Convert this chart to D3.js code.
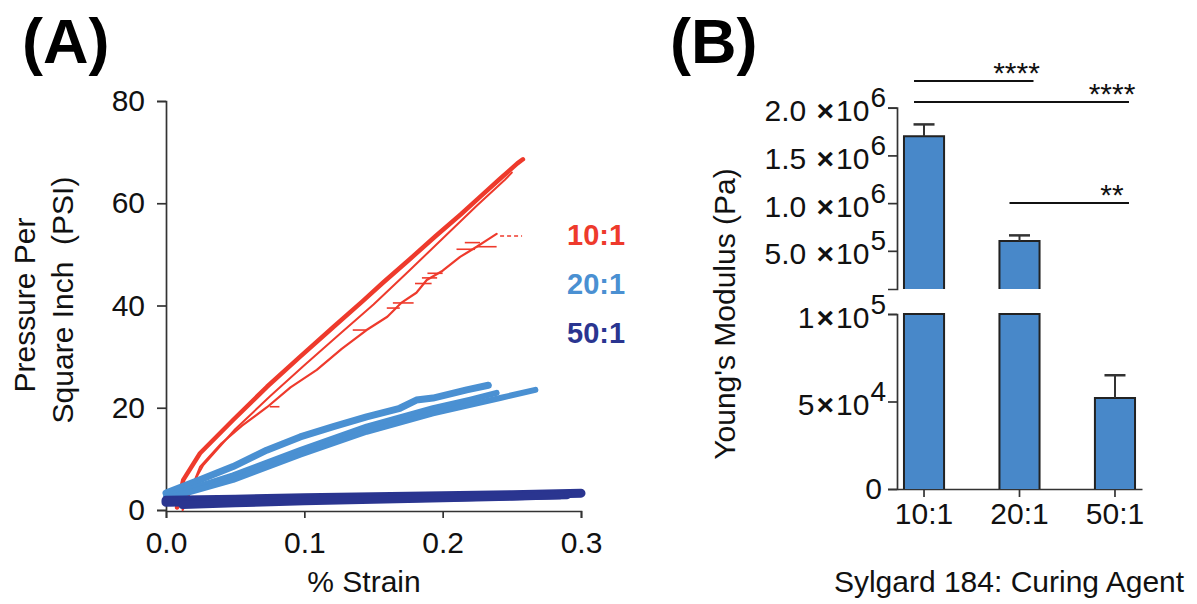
<!DOCTYPE html>
<html>
<head>
<meta charset="UTF-8">
<title>Sylgard 184 - stress/strain and Young's modulus</title>
<script src="https://cdn.jsdelivr.net/npm/d3@7"></script>
<style>
body{margin:0;background:#fff;}
svg{display:block;font-family:"Liberation Sans",Arial,sans-serif;}
.axis path,.axis line{stroke:#333;stroke-width:1.7px;}
.axis text{font-family:"Liberation Sans",Arial,sans-serif;font-size:30px;fill:#111;}
.lbl{font-size:30px;fill:#111;}
</style>
</head>
<body>
<script>
// ---------- panel A : pressure vs strain traces, [strain, psi] ----------
var red1 = [[0.008,0.5],[0.0125,5.9],[0.0246,11.1],[0.0485,17.6],[0.073,24.1],[0.097,30],[0.121,35.8],[0.142,40.8],[0.157,44.5],[0.176,49],[0.195,53.6],[0.213,57.8],[0.228,61.5],[0.2415,64.8],[0.254,67.8],[0.258,68.6]];
var red2 = [[0.012,0.3],[0.016,3.5],[0.027,8.8],[0.05,15.8],[0.075,22.2],[0.1,28.3],[0.125,34.3],[0.15,40.2],[0.175,46.6],[0.2,53.1],[0.225,59.6],[0.245,64.6],[0.25,66]];
var red3 = [[0.012,0],[0.016,2.5],[0.0246,8.4],[0.04,13],[0.055,16.5],[0.073,20.1],[0.09,24],[0.109,27.4],[0.127,31.5],[0.145,35.2],[0.16,37.8],[0.17,40.5],[0.181,42.5],[0.1885,45],[0.2,46.8],[0.2126,49.5],[0.2246,51.5],[0.232,52.8],[0.239,54]];
var red3Tail = [[0.2415,53.6],[0.2574,53.6]];
// horizontal scatter marks on the third 10:1 trace, [from, to, psi]
var redMarks = [[0.075,0.082,20.2],[0.135,0.145,35.2],[0.1596,0.169,39.5],[0.164,0.179,40.5],[0.18,0.192,44.3],[0.185,0.196,45.4],[0.189,0.2,46.3],[0.21,0.2234,51.0],[0.216,0.227,52.3],[0.2246,0.239,51.5]];

var blue1 = [[0,3.3],[0.0246,5.9],[0.0485,8.5],[0.0728,11.7],[0.097,14.3],[0.121,16.3],[0.145,18.2],[0.169,19.9],[0.181,21.5],[0.193,21.9],[0.2174,23.5],[0.233,24.4]];
var blue2 = [[0,2.6],[0.0485,6.8],[0.097,11.7],[0.145,16.3],[0.193,19.9],[0.22,21.6],[0.239,22.9]];
var blue3 = [[0,2.2],[0.0485,5.9],[0.097,10.8],[0.145,15.3],[0.193,18.9],[0.2415,21.9],[0.267,23.5]];

var navy1 = [[0,1.9],[0.05,2.1],[0.1,2.4],[0.15,2.6],[0.2,2.8],[0.25,3.0],[0.3,3.3]];
var navy2 = [[0,1.5],[0.05,1.7],[0.1,2.0],[0.15,2.3],[0.2,2.5],[0.25,2.8],[0.29,3.0]];
var navy3 = [[0.012,1.0],[0.05,1.3],[0.1,1.7],[0.15,2.0],[0.2,2.3],[0.25,2.6],[0.285,2.9]];

var legendLabels = ["10:1", "20:1", "50:1"];
var strainTicks = [0, 0.1, 0.2, 0.3];
var psiTicks = [0, 20, 40, 60, 80];

// ---------- panel B : Young's modulus per curing ratio ----------
var ratios = ["10:1", "20:1", "50:1"];
var modulus = [1.70e6, 6.02e5, 5.2e4];
var modulusErr = [1.25e5, 6.0e4, 1.3e4];
var upperTicks = [5e5, 1e6, 1.5e6, 2e6];
var lowerTicks = [0, 5e4, 1e5];
var sigPairs = [["10:1","20:1","****",2.28e6],["10:1","50:1","****",2.06e6],["20:1","50:1","**",1.0e6]];

var red = "#ee3a2c", lightBlue = "#4a90d2", navy = "#2a3590", barFill = "#4888c9";

var svg = d3.select("body").append("svg")
  .attr("width", 1197).attr("height", 604);

// panel letters
svg.append("text").attr("x", 22).attr("y", 63)
  .style("font-size", "63px").style("font-weight", "bold").text("(A)");
svg.append("text").attr("x", 670).attr("y", 63)
  .style("font-size", "63px").style("font-weight", "bold").text("(B)");

// ---- A ----
var xA = d3.scaleLinear().domain([0, 0.3]).range([166, 581]);
var yA = d3.scaleLinear().domain([0, 80]).range([510, 101]);

svg.append("g").attr("class", "axis")
  .attr("transform", "translate(0,511)")
  .call(d3.axisBottom(xA).tickValues(strainTicks).tickFormat(d3.format(".1f"))
    .tickSize(7).tickSizeOuter(7).tickPadding(14));

svg.append("g").attr("class", "axis")
  .attr("transform", "translate(166,0)")
  .call(d3.axisLeft(yA).tickValues(psiTicks).tickFormat(d3.format("d"))
    .tickSize(9).tickSizeOuter(9).tickPadding(12));

var line = d3.line().x(function(d){ return xA(d[0]); }).y(function(d){ return yA(d[1]); });

var traces = [
  {d: red1, c: red, w: 4.5},
  {d: red2, c: red, w: 2},
  {d: red3, c: red, w: 2.2},
  {d: blue1, c: lightBlue, w: 7},
  {d: blue2, c: lightBlue, w: 6},
  {d: blue3, c: lightBlue, w: 6},
  {d: navy1, c: navy, w: 9},
  {d: navy2, c: navy, w: 9},
  {d: navy3, c: navy, w: 8}
];

var gT = svg.append("g");
gT.selectAll("path.trace").data(traces).enter().append("path")
  .attr("class", "trace")
  .attr("d", function(t){ return line(t.d); })
  .attr("fill", "none")
  .attr("stroke", function(t){ return t.c; })
  .attr("stroke-width", function(t){ return t.w; })
  .attr("stroke-linejoin", "round")
  .attr("stroke-linecap", "round");

gT.append("path").attr("d", line(red3Tail))
  .attr("fill", "none").attr("stroke", red).attr("stroke-width", 1.6)
  .attr("stroke-dasharray", "4,3");

gT.selectAll("line.mark").data(redMarks).enter().append("line")
  .attr("class", "mark")
  .attr("x1", function(d){ return xA(d[0]); })
  .attr("x2", function(d){ return xA(d[1]); })
  .attr("y1", function(d){ return yA(d[2]); })
  .attr("y2", function(d){ return yA(d[2]); })
  .attr("stroke", red).attr("stroke-width", 1.6);

// bring navy on top
gT.selectAll("path.trace").filter(function(t){ return t.c === navy; }).raise();

// legend
var legendColors = [red, lightBlue, navy];
svg.selectAll("text.leg").data(legendLabels).enter().append("text")
  .attr("class", "leg")
  .attr("x", 567)
  .attr("y", function(d, i){ return 245 + i * 49; })
  .style("font-size", "29px").style("font-weight", "bold")
  .attr("fill", function(d, i){ return legendColors[i]; })
  .text(function(d){ return d; });

// axis titles A
svg.append("text").attr("class", "lbl")
  .attr("transform", "translate(35,305) rotate(-90)")
  .attr("text-anchor", "middle").text("Pressure Per");
svg.append("text").attr("class", "lbl")
  .attr("transform", "translate(73,300) rotate(-90)")
  .attr("text-anchor", "middle").style("white-space", "pre")
  .text("Square Inch  (PSI)");
svg.append("text").attr("class", "lbl")
  .attr("x", 364).attr("y", 592).attr("text-anchor", "middle").text("% Strain");

// ---- B ----
var xB = d3.scaleBand().domain(ratios).range([897, 1142])
  .paddingInner(0.58).paddingOuter(0.073);
var yUp = d3.scaleLinear().domain([1e5, 2e6]).range([289, 107.7]);
var yLo = d3.scaleLinear().domain([0, 1e5]).range([489, 314]);

function sciTicks(g, digits) {
  g.selectAll(".tick text").each(function(d){
    var t = d3.select(this).text(null);
    if (d === 0) { t.attr("dx", "-4").text("0"); return; }
    var e = Math.floor(Math.log10(d) + 1e-9), m = d / Math.pow(10, e);
    t.attr("dy", null).attr("y", 13);
    t.append("tspan").text(m.toFixed(digits) + (digits ? " " : ""));
    t.append("tspan").attr("dx", 2).style("font-weight", "bold").text("\u00d7");
    t.append("tspan").attr("dx", 2).text("10");
    t.append("tspan").attr("dy", -14).attr("dx", 1).style("font-size", "28px").text(e);
  });
}

svg.append("g").attr("class", "axis")
  .attr("transform", "translate(897,0)")
  .call(d3.axisLeft(yUp).tickValues(upperTicks).tickSize(9).tickSizeOuter(9).tickPadding(2))
  .call(sciTicks, 1);

svg.append("g").attr("class", "axis")
  .attr("transform", "translate(897,0)")
  .call(d3.axisLeft(yLo).tickValues(lowerTicks).tickSize(9).tickSizeOuter(9).tickPadding(2))
  .call(sciTicks, 0);

svg.append("g").attr("class", "axis")
  .attr("transform", "translate(0,489)")
  .call(d3.axisBottom(xB).tickSize(8).tickSizeOuter(0).tickPadding(6));

var bw = xB.bandwidth();
var gB = svg.append("g");
ratios.forEach(function(r, i){
  var x0 = xB(r), v = modulus[i];
  // lower segment
  var top = yLo(Math.min(v, 1e5));
  gB.append("path")
    .attr("d", "M" + x0 + "," + yLo(0) + "V" + top + "H" + (x0 + bw) + "V" + yLo(0))
    .attr("fill", barFill).attr("stroke", "#222").attr("stroke-width", 2);
  if (v > 1e5) {
    gB.append("path")
      .attr("d", "M" + x0 + "," + yUp(1e5) + "V" + yUp(v) + "H" + (x0 + bw) + "V" + yUp(1e5))
      .attr("fill", barFill).attr("stroke", "#222").attr("stroke-width", 2);
  }
  var ys = v > 1e5 ? yUp : yLo;
  var cx = x0 + bw / 2, yt = ys(v + modulusErr[i]);
  gB.append("line").attr("x1", cx).attr("x2", cx).attr("y1", ys(v)).attr("y2", yt)
    .attr("stroke", "#333").attr("stroke-width", 2);
  gB.append("line").attr("x1", cx - 10.5).attr("x2", cx + 10.5).attr("y1", yt).attr("y2", yt)
    .attr("stroke", "#333").attr("stroke-width", 2.5);
});

// significance brackets
sigPairs.forEach(function(s){
  var a = xB(s[0]) + bw / 2, b = xB(s[1]) + bw / 2, y = yUp(s[3]);
  svg.append("line").attr("x1", a - 10).attr("x2", b + 14).attr("y1", y).attr("y2", y)
    .attr("stroke", "#111").attr("stroke-width", 2);
  svg.append("text").attr("x", b - 3).attr("y", y + 2).attr("text-anchor", "middle")
    .style("font-size", "30px").attr("fill", "#111").text(s[2]);
});

svg.append("text").attr("class", "lbl")
  .attr("transform", "translate(735,314) rotate(-90)")
  .attr("text-anchor", "middle").text("Young's Modulus (Pa)");
svg.append("text").attr("class", "lbl")
  .attr("x", 1009).attr("y", 592).attr("text-anchor", "middle")
  .text("Sylgard 184: Curing Agent");
</script>
</body>
</html>
